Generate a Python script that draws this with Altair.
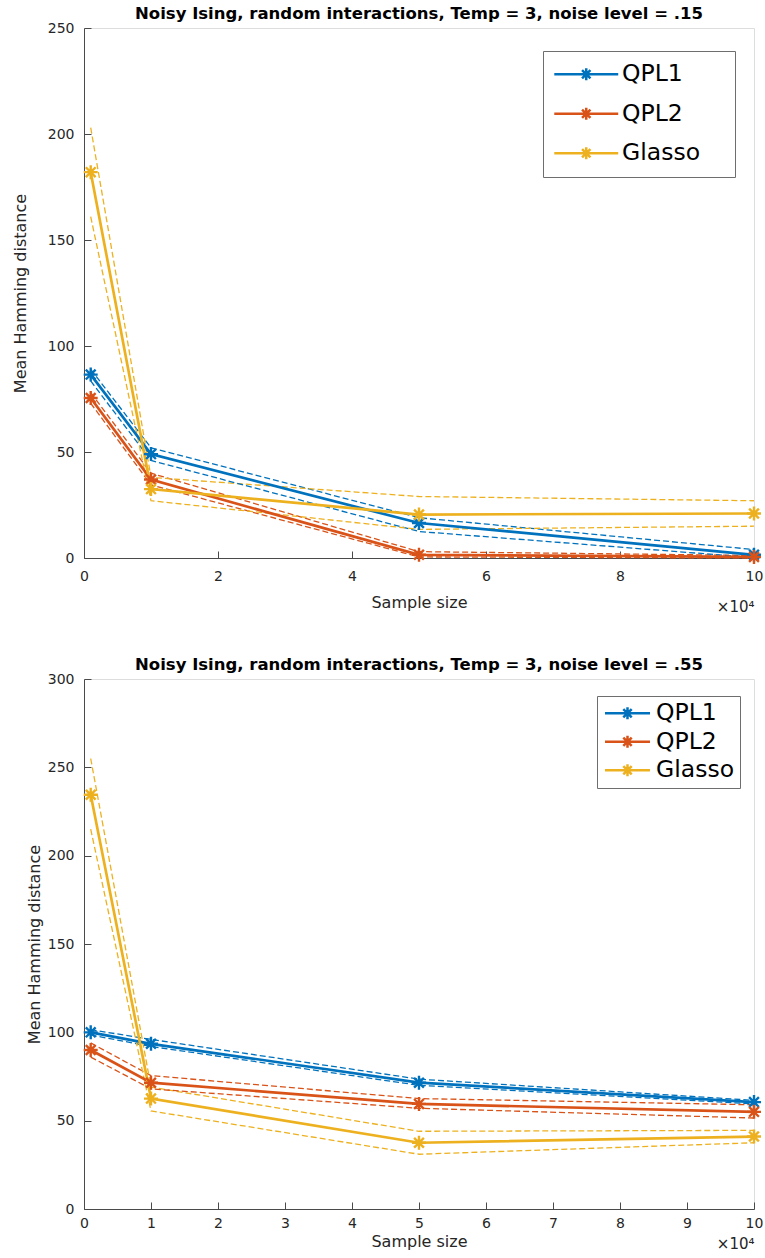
import altair as alt
import pandas as pd

methods = ["QPL1", "QPL2", "Glasso"]
colors = ["#0072BD", "#D95319", "#EDB120"]
sample_size = [0.1, 1, 5, 10]  # in units of 10^4

# Panel 1: noise level .15
top_mean = {"QPL1": [86.5, 49, 16.5, 1.5], "QPL2": [75.5, 37, 1.5, 0.5], "Glasso": [182, 32.5, 20.5, 21]}
top_hi = {"QPL1": [89, 52, 19, 4], "QPL2": [78, 40, 3, 1.2], "Glasso": [203, 38, 29, 27]}
top_lo = {"QPL1": [83.5, 46, 12.5, 0.2], "QPL2": [73, 34.5, 0.5, 0], "Glasso": [161, 27, 13.5, 15]}

# Panel 2: noise level .55
bot_mean = {"QPL1": [100, 93.5, 71.5, 60.5], "QPL2": [90, 71.5, 59.5, 55], "Glasso": [234.5, 62.5, 37.5, 41]}
bot_hi = {"QPL1": [101.5, 96, 73.5, 61.5], "QPL2": [94, 75.5, 62.5, 59], "Glasso": [255, 69, 44, 44.5]}
bot_lo = {"QPL1": [98.5, 92, 70, 59.5], "QPL2": [86, 68, 57, 51.5], "Glasso": [215, 55.5, 31, 37.5]}

top_title = "Noisy Ising, random interactions, Temp = 3, noise level = .15"
bot_title = "Noisy Ising, random interactions, Temp = 3, noise level = .55"
top_xticks = [0, 2, 4, 6, 8, 10]
bot_xticks = [0, 1, 2, 3, 4, 5, 6, 7, 8, 9, 10]
top_yticks = [0, 50, 100, 150, 200, 250]
bot_yticks = [0, 50, 100, 150, 200, 250, 300]

FONT = "DejaVu Sans"
AXC = "#4a4a4a"
TXT = "#262626"
STAR = "M-1,0L1,0M0,-1L0,1M-0.7,-0.7L0.7,0.7M-0.7,0.7L0.7,-0.7"


def legend_path(half, right_ext=None):
    # line + asterisk; optional invisible move-to that widens the legend frame
    p = "M-%s,0L%s,0M0,-1L0,1M-0.7,-0.7L0.7,0.7M-0.7,0.7L0.7,-0.7" % (half, half)
    if right_ext:
        p += "M%s,0" % right_ext
    return p


def make_df(mean, lo, hi):
    rows = []
    for m in methods:
        for i, x in enumerate(sample_size):
            rows.append(dict(method=m, x=x, mean=mean[m][i], lo=lo[m][i], hi=hi[m][i]))
    return pd.DataFrame(rows)


def panel(df, title, ymax, xticks, yticks, leg, ytitle_pad, xlab_pad, xtitle_pad, x10_y):
    xs = alt.Scale(domain=[0, 10], nice=False, zero=False)
    ys = alt.Scale(domain=[0, ymax], nice=False)
    cscale = alt.Scale(domain=methods, range=colors)
    color = alt.Color("method:N", scale=cscale, legend=leg)
    base = alt.Chart(df)

    main_x = alt.Axis(orient="bottom", values=xticks, ticks=False, tickSize=0, grid=False,
                      title="Sample size", labelPadding=xlab_pad, titlePadding=xtitle_pad,
                      domainColor=AXC, labelColor=TXT, titleColor=TXT, labelFontSize=14,
                      titleFontSize=16, titleFontWeight="normal", labelFont=FONT, titleFont=FONT,
                      labelFlush=False)
    main_y = alt.Axis(orient="left", values=yticks, ticks=False, tickSize=0, grid=False,
                      title="Mean Hamming distance", labelPadding=10, titlePadding=ytitle_pad,
                      domainColor=AXC, labelColor=TXT, titleColor=TXT, labelFontSize=14,
                      titleFontSize=16, titleFontWeight="normal", labelFont=FONT, titleFont=FONT,
                      labelFlush=False)
    tick_x = alt.Axis(orient="bottom", offset=-7, values=xticks, tickSize=7, tickColor=AXC,
                      tickWidth=1, labels=False, domain=False, grid=False, title="×10⁴",
                      titleAnchor="end", titleAlign="right", titleBaseline="middle",
                      titleY=x10_y, titleFontSize=15, titleFontWeight="normal",
                      titleColor=TXT, titleFont=FONT)
    tick_y = alt.Axis(orient="left", offset=-7, values=yticks, tickSize=7, tickColor=AXC,
                      tickWidth=1, labels=False, domain=False, grid=False, title=None)

    dashed = dict(strokeWidth=1.3, strokeDash=[6, 3])
    hi_l = base.mark_line(**dashed).encode(
        x=alt.X("x:Q", scale=xs, axis=None), y=alt.Y("hi:Q", scale=ys, axis=None), color=color)
    lo_l = base.mark_line(**dashed).encode(
        x=alt.X("x:Q", scale=xs, axis=None), y=alt.Y("lo:Q", scale=ys, axis=None), color=color)
    lines = base.mark_line(strokeWidth=2.7).encode(
        x=alt.X("x:Q", scale=xs, axis=main_x), y=alt.Y("mean:Q", scale=ys, axis=main_y), color=color)
    pts = base.mark_point(shape=STAR, size=196, strokeWidth=2.4, filled=False, opacity=1).encode(
        x=alt.X("x:Q", scale=xs, axis=tick_x), y=alt.Y("mean:Q", scale=ys, axis=tick_y), color=color)
    return alt.layer(hi_l, lo_l, lines, pts).resolve_axis(x="independent", y="independent").properties(
        width=670, height=530,
        title=alt.Title(title, fontSize=16.5, fontWeight="bold", font=FONT, color="black",
                        anchor="middle", offset=-1))


leg_top = alt.Legend(title=None, orient="none", legendX=459, legendY=23,
                     symbolType=legend_path(5.33, 22.0),
                     symbolSize=144, symbolStrokeWidth=2.5, labelFontSize=23.5, labelFont=FONT,
                     labelColor="black", padding=11.5, rowPadding=14.5, strokeColor="#6e6e6e",
                     fillColor="white", symbolOffset=20, labelOffset=24)
leg_bot = alt.Legend(title=None, orient="none", legendX=513, legendY=17,
                     symbolType=legend_path(3.75),
                     symbolSize=144, symbolStrokeWidth=2.5, labelFontSize=23.5, labelFont=FONT,
                     labelColor="black", padding=5.5, rowPadding=3.5, strokeColor="#6e6e6e",
                     fillColor="white", symbolOffset=13.25, labelOffset=16.75)

top = panel(make_df(top_mean, top_lo, top_hi), top_title, 250, top_xticks, top_yticks, leg_top,
            ytitle_pad=19, xlab_pad=11, xtitle_pad=11, x10_y=55)
bot = panel(make_df(bot_mean, bot_lo, bot_hi), bot_title, 300, bot_xticks, bot_yticks, leg_bot,
            ytitle_pad=5, xlab_pad=7, xtitle_pad=3, x10_y=41)

chart = alt.vconcat(top, bot, spacing=121, bounds="flush").resolve_scale(
    color="independent", x="independent", y="independent").resolve_legend(color="independent").properties(
    padding={"left": 11, "top": 5, "right": -3, "bottom": 0}).configure_view(
    strokeWidth=0, stroke="transparent").configure(font=FONT, background="white")

chart.save("out.html", embed_options={"renderer": "svg", "actions": False})
